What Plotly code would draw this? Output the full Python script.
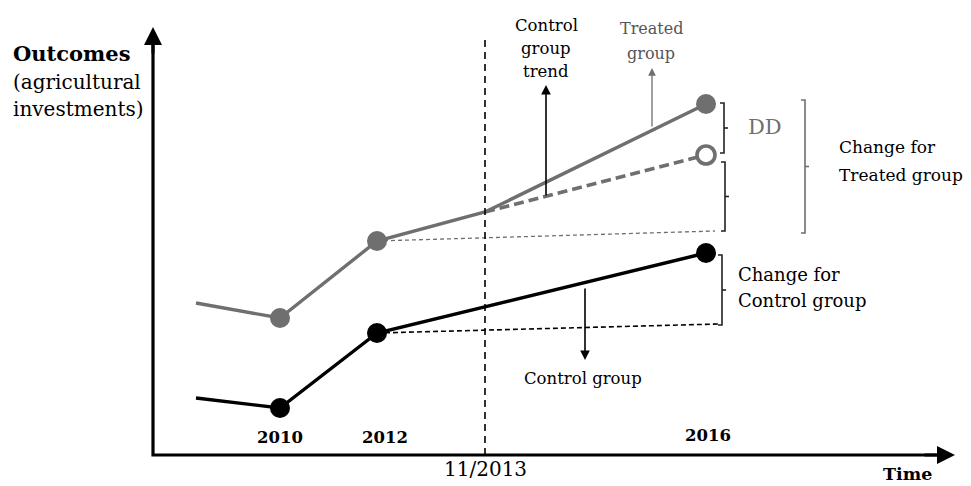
import plotly.graph_objects as go

# ---- data (time positions in axis units, outcome levels in axis units) ----
time_pts = [43, 127, 224, 332, 553]          # start, 2010, 2012, 11/2013, 2016
time_labels = ["", "2010", "2012", "11/2013", "2016"]
treated = [152, 137, 214, 243, 351]          # observed treated group
treated_cf_2016 = 300                        # counterfactual treated (control trend)
control = [57, 47, 122, None, 202]           # observed control group
treated_base_end = (562, 224)                # flat reference from 2012 treated
control_base_end = (565, 131)                # flat reference from 2012 control

GRAY = "#6f6f6f"
BLACK = "#000000"
FONT = "DejaVu Serif"

fig = go.Figure()

# flat dashed references
fig.add_trace(go.Scatter(x=[time_pts[2], treated_base_end[0]], y=[treated[2], treated_base_end[1]],
                         mode="lines", line=dict(color=GRAY, width=1.3, dash="4px,3px"), hoverinfo="skip"))
fig.add_trace(go.Scatter(x=[time_pts[2], control_base_end[0]], y=[control[2], control_base_end[1]],
                         mode="lines", line=dict(color=BLACK, width=1.6, dash="5px,3px"), hoverinfo="skip"))

# counterfactual dashed treated trend
fig.add_trace(go.Scatter(x=[time_pts[3], time_pts[4]], y=[treated[3], treated_cf_2016],
                         mode="lines", line=dict(color=GRAY, width=3.6, dash="10px,5px"), hoverinfo="skip"))

# treated observed
fig.add_trace(go.Scatter(x=time_pts, y=treated, mode="lines", line=dict(color=GRAY, width=3.4),
                         hoverinfo="skip"))
fig.add_trace(go.Scatter(x=[time_pts[1], time_pts[2], time_pts[4]], y=[treated[1], treated[2], treated[4]],
                         mode="markers", marker=dict(color=GRAY, size=20, line=dict(width=0)), hoverinfo="skip"))
fig.add_trace(go.Scatter(x=[time_pts[4]], y=[treated_cf_2016], mode="markers",
                         marker=dict(color="white", size=18, line=dict(color=GRAY, width=3.6)), hoverinfo="skip"))

# control observed
cx = [t for t, v in zip(time_pts, control) if v is not None]
cy = [v for v in control if v is not None]
fig.add_trace(go.Scatter(x=cx, y=cy, mode="lines", line=dict(color=BLACK, width=3.4), hoverinfo="skip"))
fig.add_trace(go.Scatter(x=cx[1:], y=cy[1:], mode="markers",
                         marker=dict(color=BLACK, size=20, line=dict(width=0)), hoverinfo="skip"))

# vertical dashed line at 11/2013
fig.add_trace(go.Scatter(x=[time_pts[3], time_pts[3]], y=[0, 415], mode="lines",
                         line=dict(color=BLACK, width=1.6, dash="7px,5px"), hoverinfo="skip"))

# axes
fig.add_trace(go.Scatter(x=[0, 0, 790], y=[420, 0, 0], mode="lines", line=dict(color=BLACK, width=3.2),
                         hoverinfo="skip"))

def bracket(x, y0, y1, color, tick=4, width=1.6):
    ym = (y0 + y1) / 2
    fig.add_trace(go.Scatter(x=[x - tick, x, x, x - tick, None, x, x + tick],
                             y=[y0, y0, y1, y1, None, ym, ym],
                             mode="lines", line=dict(color=color, width=width), hoverinfo="skip"))

bracket(571, treated[4] + 1, treated_cf_2016 + 2, "#222222")
bracket(572, treated_cf_2016 - 7, treated_base_end[1], "#222222")
bracket(652, treated[4] + 4, treated_base_end[1] - 2, GRAY)
bracket(569, control[4] - 2, control_base_end[1] - 1, "#222222")

annotations = []
def arrow(x0, y0, x1, y1, color, width=1.5):
    annotations.append(dict(x=x1, y=y1, ax=x0, ay=y0, xref="x", yref="y", axref="x", ayref="y",
                            showarrow=True, arrowhead=2, arrowsize=1.2, arrowwidth=width,
                            arrowcolor=color, text=""))

arrow(0, 400, 0, 428, BLACK, 3)
arrow(770, 0, 802, 0, BLACK, 3)
arrow(393, 258, 393, 370, BLACK, 1.6)
arrow(499, 327, 499, 387, GRAY, 1.3)
arrow(432, 168, 432, 95, BLACK, 1.6)

def text(x, y, s, size=16, color=BLACK, bold=False, anchor="center"):
    if bold:
        s = "<b>" + s + "</b>"
    annotations.append(dict(x=x, y=y, xref="x", yref="y", text=s, showarrow=False,
                            xanchor=anchor, yanchor="middle",
                            font=dict(family=FONT, size=size, color=color)))

text(-142, 402, "Outcomes", 21, bold=True, anchor="left")
text(-142, 373, "(agricultural", 20, anchor="left")
text(-142, 346, "investments)", 20, anchor="left")

text(time_pts[1], 18, time_labels[1], 16.5, bold=True)
text(time_pts[2] + 8, 18, time_labels[2], 16.5, bold=True)
text(time_pts[4] + 2, 20, time_labels[4], 16.5, bold=True)
text(time_pts[3], -14, time_labels[3], 20)
text(754, -19, "Time", 17.5, bold=True)

text(393, 430, "Control", 16.5)
text(393, 407, "group", 16.5)
text(393, 384, "trend", 16.5)
text(498, 427, "Treated", 16, color="#555555")
text(498, 402, "group", 16, color="#555555")
text(430, 77, "Control group", 16.5)

text(612, 328, "DD", 21, color=GRAY)
text(684, 308, "Change for", 17, anchor="left")
text(684, 280, "Treated group", 17, anchor="left")
text(583, 181, "Change for", 18, anchor="left")
text(583, 155, "Control group", 18, anchor="left")

fig.update_layout(
    width=963, height=478, autosize=False,
    margin=dict(l=0, r=0, t=0, b=0),
    paper_bgcolor="white", plot_bgcolor="white",
    showlegend=False,
    xaxis=dict(range=[-145, 818], visible=False, fixedrange=True),
    yaxis=dict(range=[-31, 447], visible=False, fixedrange=True),
    annotations=annotations,
)

fig.write_html("out.html")
